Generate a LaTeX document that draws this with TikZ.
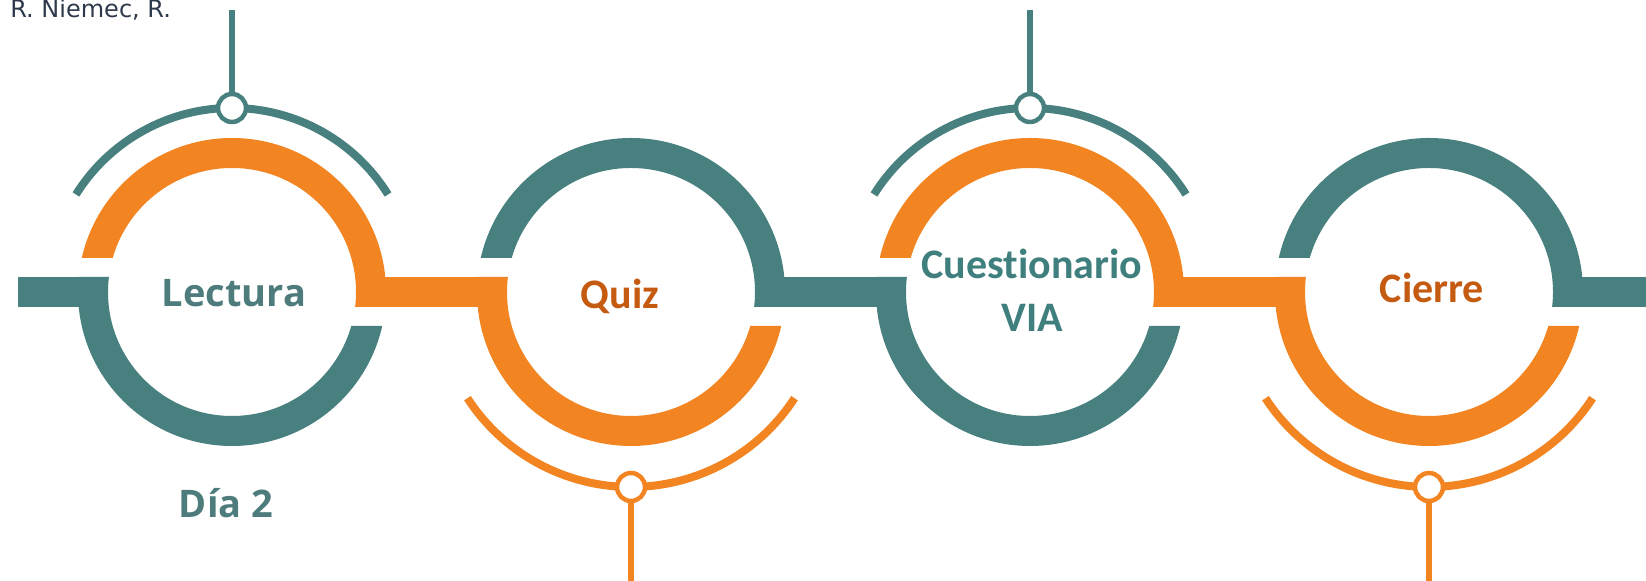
\documentclass[tikz,border=0pt]{standalone}
\usepackage{fontspec}
\setmainfont{Open Sans}
\newfontfamily\calibri[Ligatures=NoCommon]{Carlito}
\newfontfamily\dejavu{DejaVu Sans}
\usepackage{xcolor}
\definecolor{ringteal}{HTML}{47807F}
\definecolor{ringorange}{HTML}{F28522}
\definecolor{textorange}{HTML}{C55A11}
\definecolor{textteal}{HTML}{3F7F7D}
\definecolor{grayteal}{HTML}{4E7C7C}
\definecolor{authorc}{HTML}{2E3A4C}

\begin{document}
\begin{tikzpicture}[x=0.5pt, y=0.5pt,
    tband/.style={draw=ringteal, line width=15pt},
    oband/.style={draw=ringorange, line width=15pt},
    tthin/.style={draw=ringteal, line width=4pt},
    othin/.style={draw=ringorange, line width=4pt},
    tknob/.style={circle, draw=ringteal, line width=2.25pt, fill=white, minimum size=14pt, inner sep=0pt},
    oknob/.style={circle, draw=ringorange, line width=2.25pt, fill=white, minimum size=14pt, inner sep=0pt},
    title/.style={font=\calibri\bfseries\fontsize{21}{26.5}\selectfont, anchor=base}]

    \useasboundingbox (0,0) rectangle (1646,581);

    % bars
    \draw [tband] (18,289) -- (108,289);
    \draw [oband] (356,289) -- (507,289);
    \draw [tband] (755,289) -- (906,289);
    \draw [oband] (1154,289) -- (1305,289);
    \draw [tband] (1553,289) -- (1646,289);

    % rings
    \begin{scope}
      \clip (62,323) -- (232,323) -- (232,274) -- (402,274) -- (402,459) -- (62,459) -- cycle;
      \draw [oband] (232,289) circle (139);
    \end{scope}
    \begin{scope}
      \clip (62,304) -- (232,304) -- (232,255) -- (402,255) -- (402,119) -- (62,119) -- cycle;
      \draw [tband] (232,289) circle (139);
    \end{scope}
    \begin{scope}
      \clip (461,323) -- (631,323) -- (631,274) -- (801,274) -- (801,459) -- (461,459) -- cycle;
      \draw [tband] (631,289) circle (139);
    \end{scope}
    \begin{scope}
      \clip (461,304) -- (631,304) -- (631,255) -- (801,255) -- (801,119) -- (461,119) -- cycle;
      \draw [oband] (631,289) circle (139);
    \end{scope}
    \begin{scope}
      \clip (860,323) -- (1030,323) -- (1030,274) -- (1200,274) -- (1200,459) -- (860,459) -- cycle;
      \draw [oband] (1030,289) circle (139);
    \end{scope}
    \begin{scope}
      \clip (860,304) -- (1030,304) -- (1030,255) -- (1200,255) -- (1200,119) -- (860,119) -- cycle;
      \draw [tband] (1030,289) circle (139);
    \end{scope}
    \begin{scope}
      \clip (1259,323) -- (1429,323) -- (1429,274) -- (1599,274) -- (1599,459) -- (1259,459) -- cycle;
      \draw [tband] (1429,289) circle (139);
    \end{scope}
    \begin{scope}
      \clip (1259,304) -- (1429,304) -- (1429,255) -- (1599,255) -- (1599,119) -- (1259,119) -- cycle;
      \draw [oband] (1429,289) circle (139);
    \end{scope}

    % thin arcs
    \draw [tthin] (232,289) ++(32:184) arc (32:148:184);
    \draw [othin] (631,289) ++(213:195) arc (213:327:195);
    \draw [tthin] (1030,289) ++(32:184) arc (32:148:184);
    \draw [othin] (1429,289) ++(213:195) arc (213:327:195);

    % knobs and sticks
    \node [tknob] (a) at (232,473) {};
    \node [oknob] (b) at (631,94) {};
    \node [tknob] (c) at (1030,473) {};
    \node [oknob] (d) at (1429,94) {};
    \coordinate (a1) at (232,571);
    \coordinate (b1) at (631,0);
    \coordinate (c1) at (1030,571);
    \coordinate (d1) at (1429,0);
    \draw [ringteal, line width=3pt] (a) -- (a1);
    \draw [ringorange, line width=3pt] (b) -- (b1);
    \draw [ringteal, line width=3pt] (c) -- (c1);
    \draw [ringorange, line width=3pt] (d) -- (d1);

    % labels
    \node [anchor=base, text=grayteal, font=\bfseries\fontsize{19}{23}\selectfont] (e) at (234,274) {Lectura};
    \node [title, text=textorange] (f) at (620,272) {Quiz};
    \node [title, text=textteal, align=center] (g) at (1032,249) {Cuestionario\\VIA};
    \node [title, text=textorange] (h) at (1432,278) {Cierre};
    \node [anchor=base, text=grayteal, font=\bfseries\fontsize{19}{23}\selectfont] (i) at (226,63) {Día 2};
    \node [anchor=base west, inner sep=0pt, text=authorc, font=\dejavu\fontsize{12}{14}\selectfont] (j) at (10,563) {R. Niemec, R.};

\end{tikzpicture}
\end{document}
